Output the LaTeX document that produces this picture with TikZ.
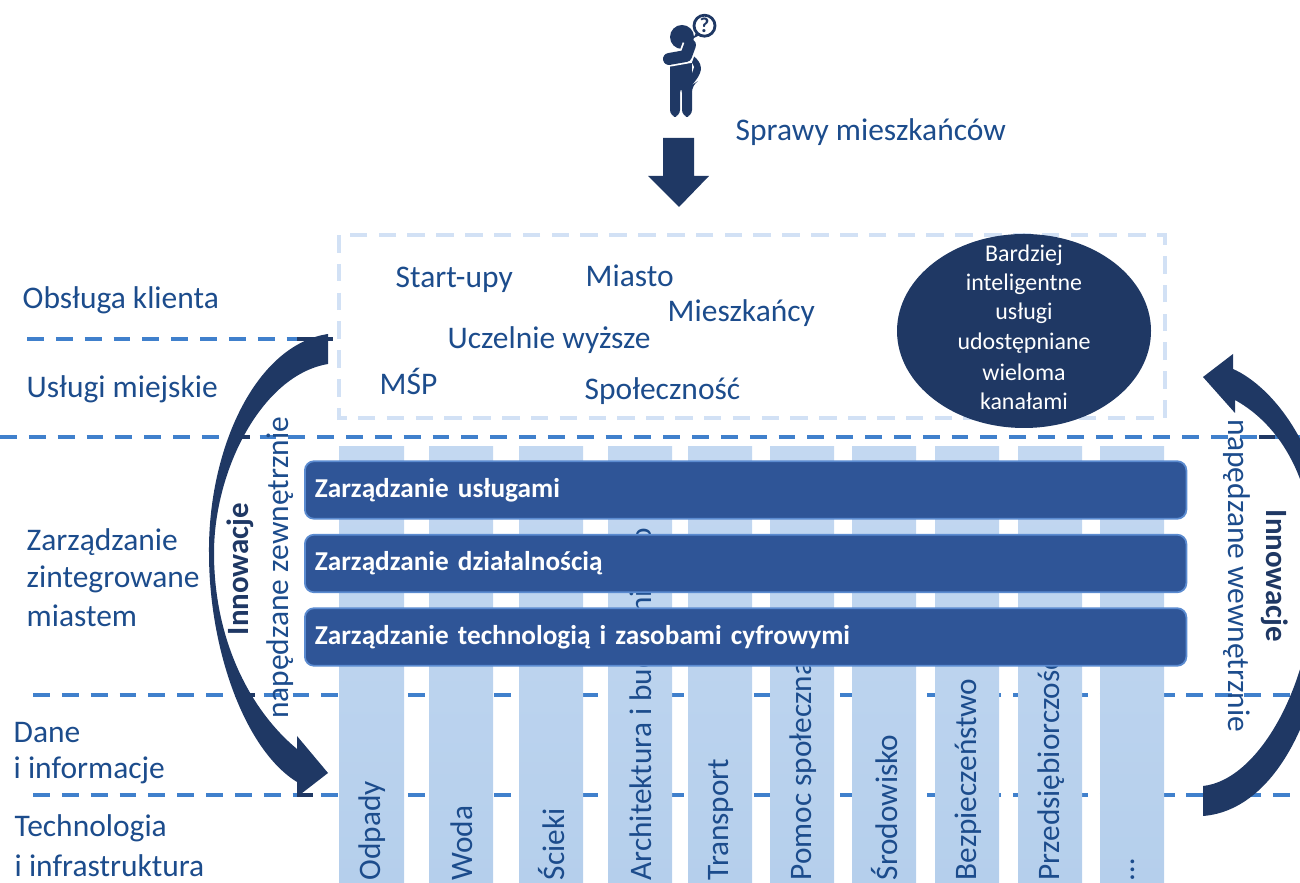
\documentclass[tikz,border=0pt]{standalone}
\usepackage{fontspec}
\setmainfont{Carlito}
\usetikzlibrary{calc}
\definecolor{navy}{HTML}{1F3864}
\definecolor{steel}{HTML}{2F5597}
\definecolor{inktext}{HTML}{1C4C8C}
\definecolor{dashblue}{HTML}{4080CC}
\definecolor{frameblue}{HTML}{D2E1F5}
\definecolor{colblue}{HTML}{B5CFEC}
\definecolor{coltop}{HTML}{C3D8F1}
\definecolor{barline}{HTML}{5B8BD0}
\tikzset{
  lab/.style={text=inktext, font=\fontsize{8.95}{10}\selectfont, inner sep=0pt, anchor=west},
  lev/.style={draw=dashblue, line width=1.15pt, dash pattern=on 4.8pt off 3.4pt},
  levdark/.style={draw=navy, line width=1.15pt},
  frame/.style={draw=frameblue, line width=0.9pt, dash pattern=on 5pt off 3.2pt},
  col/.style={top color=coltop, bottom color=colblue, draw=none},
  collab/.style={text=inktext, font=\fontsize{8.9}{10}\selectfont, rotate=90, inner sep=0pt, anchor=west},
  bar/.style={fill=steel, draw=barline, line width=0.5pt, rounded corners=2.6pt, minimum width=8.81cm,
    minimum height=0.575cm, anchor=west, inner xsep=0.1cm, inner ysep=0pt, text width=8.61cm, align=left,
    text=white, font=\fontsize{7.75}{9}\selectfont\bfseries},
  solid/.style={fill=navy, draw=none},
  vert/.style={text=inktext, font=\fontsize{8.95}{10}\selectfont, inner sep=0pt},
  vertb/.style={text=navy, font=\fontsize{8.8}{10}\selectfont\bfseries, inner sep=0pt},
}
\begin{document}
\begin{tikzpicture}[x=0.01cm,y=-0.01cm]
  \useasboundingbox (0,0) rectangle (1300,883);
  \clip (0,0) rectangle (1300,883);
  % level lines
  \draw[lev] (27,339) -- (330,339);
  \foreach \Y/\X in {437/0,695/33,795/33}
    \draw[lev] (\X,\Y) -- (1300,\Y);
  % columns
  \foreach \A/\B/\T [count=\i] in {339/404/Odpady,429/493/Woda,519/583/Ścieki,608/672/Architektura i budownictwo,688/752/Transport,770/834/Pomoc społeczna,852/916/Środowisko,935/999/Bezpieczeństwo,1018/1082/Przedsiębiorczość,1100/1164/\ldots}{
    \fill[col] (\A,447) rectangle (\B,883);
    \node[collab] (col\i) at ({(\A+\B)/2+1},881) {\T};
  }
  % frame of the upper part
  \draw[frame] (339,235) rectangle (1165,418);
  % management bars
  \node[bar] (mgmtA) at (304,490) {\raisebox{-0.5pt}{Zarządzanie usługami}};
  \node[bar] (mgmtB) at (304,563.5) {\raisebox{-0.5pt}{Zarządzanie działalnością}};
  \node[bar] (mgmtC) at (304,637) {\raisebox{-0.5pt}{Zarządzanie technologią i zasobami cyfrowymi}};
  % left labels
  \node[lab] (obsluga) at (22,300) {Obsługa klienta};
  \node[lab] (uslugi) at (26,389) {Usługi miejskie};
  \node[lab] (zarz) at (26,542) {Zarządzanie};
  \node[lab] (zint) at (26,579) {zintegrowane};
  \node[lab] (miastem) at (26,616) {miastem};
  \node[lab] (dane) at (13,733) {Dane};
  \node[lab] (info) at (13,770) {i informacje};
  \node[lab] (techn) at (14,828) {Technologia};
  \node[lab] (infra) at (14,866) {i infrastruktura};
  % actors
  \node[lab] (sprawy) at (735,132) {Sprawy mieszkańców};
  \node[lab] (startup) at (395,280) {Start-upy};
  \node[lab] (miasto) at (585,276) {Miasto};
  \node[lab] (miesz) at (667,313) {Mieszkańcy};
  \node[lab] (uczel) at (447,340) {Uczelnie wyższe};
  \node[lab] (msp) at (379,381) {MŚP};
  \node[lab] (spol) at (584,391) {Społeczność};
  % ellipse
  \fill[navy] (1024,331) ellipse [x radius=127, y radius=97];
  \foreach \T/\Y [count=\i] in {Bardziej/255,inteligentne/284,usługi/313,udostępniane/343,wieloma/372,kanałami/401}
    \node[text=white, font=\fontsize{6.8}{8}\selectfont, inner sep=0pt] (smart\i) at (1024,\Y) {\T};
  % person
  \fill[navy] (682,37) circle (12);
  \fill[navy, rounded corners=2pt] (670,60) -- (692,53) -- (703,67) -- (695,83) -- (692,85) -- (692,117) -- (682,117)
    -- (682,86) -- (680,86) -- (680,117) -- (670,117) -- cycle;
  \fill[white] (692,63) -- (694,67) -- (692,73) -- cycle;
  \draw[navy, line width=3.4pt, line cap=round, line join=round, preaction={draw=white, line width=4.4pt}]
    (669,59) -- (686,56) -- (690,45);
  \draw[navy, line width=0.8pt] (704.5,25.7) circle (10.5);
  \fill[navy] (696,33) -- (693,38.5) -- (700,35) -- cycle;
  \node[text=navy, font=\fontsize{6}{7}\selectfont\bfseries, inner sep=0pt] (quest) at (704.5,25.7) {?};
  % big arrow down
  \fill[navy] (663,138) -- (694,138) -- (694,176) -- (709,176) -- (679,207) -- (648,176) -- (663,176) -- cycle;
  % left curved arrow
  \fill[solid] (328,334) .. controls (255,345) and (208,450) .. (209,553)
    .. controls (209,650) and (245,750) .. (297,782) -- (297,797) -- (328,773) -- (297,736) -- (297,749)
    .. controls (250,710) and (214,640) .. (214,553)
    .. controls (214,470) and (262,375) .. (328,364) -- cycle;
  \foreach \A/\B/\Y in {297/333/339,240/250/437,240/255/695,297/313/795}
    \draw[levdark] (\A,\Y) -- (\B,\Y);
  % right curved arrow
  \fill[solid] (1203,377) -- (1233,354) -- (1233,369)
    .. controls (1270,385) and (1330,450) .. (1330,570)
    .. controls (1330,700) and (1280,810) .. (1203,816) -- (1203,786)
    .. controls (1260,780) and (1315,680) .. (1315,570)
    .. controls (1315,480) and (1280,425) .. (1235,400) -- (1235,413) -- cycle;
  \draw[levdark] (1259,437) -- (1275,437);
  % rotated labels
  \node[vertb, rotate=90] (innoL) at (240,569) {Innowacje};
  \node[vert, rotate=90] (drivL) at (280,568) {napędzane zewnętrznie};
  \node[vertb, rotate=-90] (innoR) at (1275,576) {Innowacje};
  \node[vert, rotate=-90] (drivR) at (1237,576) {napędzane wewnętrznie};
\end{tikzpicture}
\end{document}
